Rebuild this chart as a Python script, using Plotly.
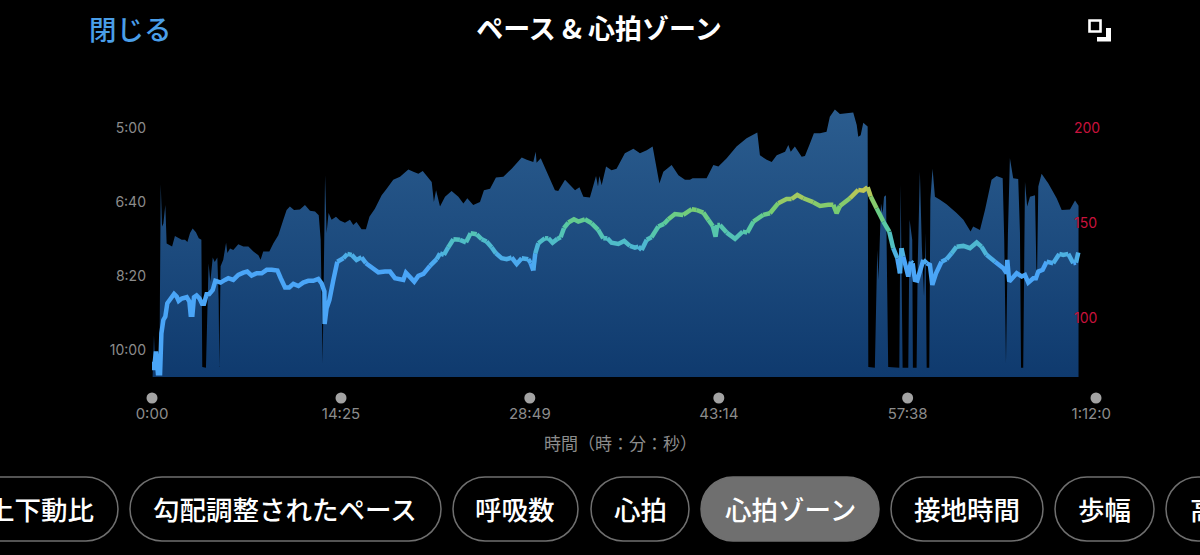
import plotly.graph_objects as go
from plotly.colors import sample_colorscale

# Elapsed time in seconds, pace in seconds per km
pace_time = [3, 9, 15, 34, 40, 46, 52, 61, 67, 82, 92, 105, 121, 136, 151, 162, 174, 186, 201, 214, 226,
             230, 247, 255, 259, 267, 278, 287, 299, 305, 308, 314, 326, 339, 345, 357, 372, 395, 418, 441,
             464, 487, 497, 509, 537, 555, 578, 601, 616, 631, 650, 677, 700, 723, 746, 763, 772, 781, 786,
             792, 799, 808, 822, 842, 860, 883, 906, 921, 936, 959, 979, 995, 1020, 1051, 1074, 1104, 1135,
             1173, 1196, 1219, 1239, 1257, 1280, 1290, 1300, 1318, 1341, 1371, 1402, 1425, 1443, 1470,
             1501, 1519, 1547, 1574, 1608, 1646, 1692, 1715, 1745, 1756, 1760, 1779, 1806, 1844, 1859, 1890,
             1913, 1936, 1956, 1974, 2004, 2032, 2041, 2047, 2058, 2078, 2103, 2126, 2164, 2203, 2233, 2264,
             2291, 2303, 2322, 2340, 2378, 2409, 2439, 2462, 2474, 2508, 2538, 2569, 2592, 2630, 2675, 2721,
             2770, 2782, 2813, 2836, 2859, 2897, 2912, 2923, 2942, 2973, 2988, 3011, 3029, 3057, 3087, 3102,
             3125, 3148, 3179, 3209, 3225, 3232, 3243, 3255, 3275, 3278, 3308, 3319, 3325, 3336, 3344, 3350,
             3359, 3369, 3420, 3426, 3435, 3461, 3467, 3479, 3482, 3499, 3504, 3514, 3523, 3533, 3540, 3545,
             3557, 3562, 3572, 3583, 3606, 3636, 3682, 3713, 3746, 3758, 3789, 3812, 3842, 3865, 3893, 3900,
             3908, 3917, 3926, 3941, 3964, 3972, 3977, 3987, 3995, 4005, 4018, 4041, 4047, 4050, 4056, 4071,
             4102, 4140, 4163, 4201, 4224, 4240]
pace_sec = [634, 580, 623, 623, 376, 433, 429, 404, 456, 458, 460, 446, 449, 451, 451, 454, 442, 436, 441, 449, 451,
            623, 624, 532, 483, 508, 475, 481, 475, 532, 623, 487, 478, 455, 469, 463, 465, 457, 460, 460,
            467, 472, 478, 467, 467, 456, 445, 424, 411, 406, 411, 410, 404, 412, 413, 418, 451, 618, 487,
            364, 442, 415, 424, 420, 425, 428, 424, 431, 427, 437, 437, 420, 409, 391, 382, 370, 366,
            356, 359, 362, 358, 365, 373, 400, 384, 406, 393, 385, 393, 402, 395, 404,
            400, 384, 382, 367, 366, 355, 340, 343, 346, 332, 347, 341, 359, 384, 385, 370,
            377, 384, 380, 393, 394, 365, 379, 365, 377, 352, 357, 355, 334, 328, 334, 330,
            325, 343, 375, 359, 350, 364, 370, 370, 368, 368, 368, 350, 352, 341, 325, 314,
            306, 337, 343, 346, 337, 332, 323, 332, 325, 339, 338, 321, 307, 307, 305, 285,
            275, 281, 280, 279, 296, 312, 310, 293, 298, 623, 624, 465, 505, 402, 415, 393,
            391, 623, 624, 377, 624, 624, 424, 451, 624, 624, 487, 359, 460, 528, 442, 624,
            624, 397, 355, 393, 397, 403, 415, 424, 440, 433, 438, 411, 370, 365, 368, 451,
            618, 442, 341, 368, 369, 442, 624, 624, 373, 406, 393, 391, 487, 505, 379, 362,
            375, 395, 411, 410, 398, 405]

# Elapsed time in seconds, heart rate in bpm
hr_time = [3, 9, 18, 27, 37, 38, 43, 52, 61, 70, 82, 101, 113, 122, 136, 159, 171, 177, 185, 192, 204, 217, 229, 238,
           250, 262, 278, 290, 302, 314, 334, 349, 372, 395, 418, 436, 456, 479, 502, 525, 548, 574, 589, 609, 628,
           647, 670, 692, 715, 738, 761, 776, 789, 790, 799, 812, 830, 848, 876, 894, 914, 936, 959, 979, 1005, 1036,
           1066, 1089, 1112, 1135, 1150, 1162, 1181, 1200, 1219, 1242, 1272, 1303, 1318, 1336, 1356, 1379, 1409, 1437,
           1458, 1486, 1509, 1531, 1554, 1574, 1600, 1623, 1646, 1669, 1692, 1722, 1733, 1745, 1754, 1768, 1798, 1814,
           1833, 1855, 1870, 1885, 1905, 1931, 1951, 1981, 2012, 2042, 2065, 2084, 2103, 2134, 2161, 2187, 2210, 2226,
           2241, 2264, 2286, 2317, 2343, 2363, 2393, 2431, 2470, 2492, 2523, 2546, 2566, 2579, 2587, 2599, 2630, 2668,
           2703, 2724, 2752, 2797, 2828, 2866, 2904, 2927, 2953, 2981, 3026, 3057, 3095, 3118, 3133, 3148, 3194, 3232,
           3255, 3275, 3289, 3316, 3347, 3374, 3392, 3411, 3423, 3430, 3438, 3450, 3461, 3473, 3481, 3491, 3502, 3514,
           3530, 3545, 3560, 3571, 3588, 3613, 3636, 3659, 3682, 3713, 3743, 3774, 3796, 3819, 3858, 3896, 3911, 3914,
           3923, 3957, 3980, 3995, 4010, 4033, 4045, 4056, 4076, 4094, 4124, 4152, 4170, 4193, 4216, 4228, 4239]
hr_bpm = [77, 72.6, 82.3, 70.9, 70.9, 88.4, 91.9, 98.9, 100.7, 107.7, 109.8, 112.6, 111.2, 108.9, 110.2, 110.9, 108.6,
          101.6, 101.6, 110.9, 111.8, 110.3, 107.4, 107.4,
          112.5, 112.6, 114.7, 119.5, 119.1, 118.6, 120, 120.9, 120, 122.6, 123.8, 124.4, 122.3, 123.5, 123.5, 125.3,
          125.3, 124.9, 120.9, 116, 116,
          117.9, 116.8, 118.6, 119.5, 119.5, 120.5, 118.2, 113.9, 96.8, 105.1, 109.5, 120, 129.6, 131.4, 133.7, 133.2,
          130.5, 131.9, 128.8, 126.5, 124,
          124.4, 124.4, 120.9, 120.3, 120, 123.8, 121.7, 119.1, 122.1, 123.2, 127.4, 130.9, 134, 133.2, 137.2, 141.4,
          141.1, 139.8,
          144.6, 144, 141.4, 140.2, 137.2, 134, 131.4, 130.9, 131.8, 128.4, 131.4, 130.9, 128.8, 124.9, 134, 139.3,
          141.9, 141.9,
          139.6, 141.6, 142.5, 147.2, 150.2, 151.9, 150.7, 151.9, 149.8, 146.3, 141.9, 141.9, 139.6, 138.9, 140.5,
          137.9, 137, 137.5,
          135.8, 141.1, 142.5, 148.1, 149.5, 151.9, 154.7, 154.2, 157.2, 156.8, 155.4, 151.6, 148.4, 142.8, 148.9,
          148.9, 144.9, 141.6,
          145.4, 144.9, 150.7, 154.2, 155.1, 160.4, 162.6, 162.6, 164.7, 163, 160.9, 158.9, 159.5, 159.5, 155.1, 158.9,
          163, 167.4,
          167, 168.8, 163.9, 157.7, 150.7, 145.4, 136.7, 131.4, 123.5, 136.7, 132.3, 125.3, 121.8, 129.6, 128.8, 120,
          119.7, 125.3,
          130.5, 128.8, 127.9, 117.4, 123.5, 129.6, 130.9, 134, 137.5, 137.9, 136.7, 139.7, 137.5, 133.2, 129.6, 126.1,
          123.5, 130.5,
          119.1, 123.5, 121.8, 122.6, 118.6, 120.9, 120.9, 124.4, 125.3, 129.6, 128.8, 133.7, 133.2, 133.7, 128.8,
          129.1, 134.4]

time_ticks = [0, 865, 1729, 2594, 3458, 4320]
time_labels = ["0:00", "14:25", "28:49", "43:14", "57:38", "1:12:00"]
pace_ticks = [300, 400, 500, 600]
pace_labels = ["5:00", "6:40", "8:20", "10:00"]
hr_ticks = [100, 150, 200]

chip_labels = ["上下動比", "勾配調整されたペース", "呼吸数", "心拍", "心拍ゾーン", "接地時間", "歩幅", "高度"]
selected_chip = "心拍ゾーン"

W, H = 1200, 555
# pill edges on screen, first and last run off the page
chip_edges = [(-120, 118), (130, 441), (453, 578), (591, 689), (701, 879), (891, 1043), (1055, 1154), (1166, 1320)]
chip_centers = [41, 285, 515, 640, 790, 967, 1104, 1216]


def px(x):
    return x / W


def py(y):
    return 1 - y / H


def pill_path(x0, x1, y0=477, y1=541):
    r = (y1 - y0) / 2
    k = r * 0.45
    pts = [
        ("M", (x0 + r, y0)), ("L", (x1 - r, y0)),
        ("C", (x1 - k, y0), (x1, y0 + k), (x1, y0 + r)),
        ("C", (x1, y1 - k), (x1 - k, y1), (x1 - r, y1)),
        ("L", (x0 + r, y1)),
        ("C", (x0 + k, y1), (x0, y1 - k), (x0, y0 + r)),
        ("C", (x0, y0 + k), (x0 + k, y0), (x0 + r, y0)),
    ]
    out = ""
    for p in pts:
        coords = " ".join(f"{px(a):.5f},{py(b):.5f}" for a, b in p[1:])
        out += f"{p[0]} {coords} "
    return out + "Z"


# heart rate zones drive the line colour
zone_scale = [[0, "rgb(74,165,247)"], [0.3, "rgb(74,165,247)"], [0.5, "rgb(79,188,200)"],
              [0.65, "rgb(90,203,158)"], [0.8, "rgb(120,204,114)"], [1, "rgb(207,198,78)"]]


def hr_colour(bpm):
    frac = min(max((bpm - 110) / 60, 0.0), 1.0)
    return sample_colorscale(zone_scale, [round(frac * 30) / 30])[0]


fig = go.Figure()

# pace area, filled down to the bottom of the axis
pace_bottom = 636.5
pace_top = 262.2
fig.add_trace(go.Scatter(x=[pace_time[0], pace_time[-1]], y=[pace_bottom, pace_bottom], mode="lines",
                         line=dict(width=0), showlegend=False, hoverinfo="skip"))
fig.add_trace(go.Scatter(x=pace_time, y=pace_sec, mode="lines", line=dict(width=0), fill="tonexty",
                         fillgradient=dict(type="vertical", start=pace_top, stop=pace_bottom,
                                           colorscale=[[0, "#2c5e90"], [1, "#0f3a6e"]]),
                         showlegend=False, hoverinfo="skip"))

# heart rate line, one trace per run of the same colour
start = 0
for i in range(1, len(hr_time)):
    colour = hr_colour((hr_bpm[i - 1] + hr_bpm[i]) / 2)
    nxt = hr_colour((hr_bpm[i] + hr_bpm[i + 1]) / 2) if i + 1 < len(hr_time) else None
    if nxt != colour:
        fig.add_trace(go.Scatter(x=hr_time[start:i + 1], y=hr_bpm[start:i + 1], yaxis="y2", mode="lines",
                                 line=dict(color=colour, width=4.5), showlegend=False, hoverinfo="skip"))
        start = i

# dots above the time labels
fig.add_trace(go.Scatter(x=time_ticks, y=[0] * len(time_ticks), yaxis="y3", mode="markers",
                         marker=dict(color="#a3a3a3", size=11), cliponaxis=False,
                         showlegend=False, hoverinfo="skip"))

grey = "#8c8c8c"
tick_font = dict(family="Inter, Roboto, sans-serif", size=14, color=grey)
cjk = "Noto Sans CJK JP"

shapes = []
annotations = []
for label, (x0, x1), xc in zip(chip_labels, chip_edges, chip_centers):
    on = label == selected_chip
    shapes.append(dict(type="path", path=pill_path(x0, x1), xref="paper", yref="paper",
                       fillcolor="#6f6f6f" if on else "rgba(0,0,0,0)",
                       line=dict(color="#6f6f6f", width=1.5)))
    annotations.append(dict(text=label, x=px(xc), y=py(508), xref="paper", yref="paper", showarrow=False,
                            xanchor="center", yanchor="middle",
                            font=dict(family=cjk, size=26.5, color="#ffffff", weight=500)))

annotations.append(dict(text="閉じる", x=px(130), y=py(28), xref="paper", yref="paper", showarrow=False,
                        xanchor="center", yanchor="middle", font=dict(family=cjk, size=27.5, color="#4a9ee8", weight=500)))
annotations.append(dict(text="時間（時：分：秒）", x=px(620), y=py(442), xref="paper", yref="paper", showarrow=False,
                        xanchor="center", yanchor="middle", font=dict(family=cjk, size=17, color=grey)))

# expand icon, top right
shapes.append(dict(type="rect", xref="paper", yref="paper", x0=px(1089.5), x1=px(1100.5), y0=py(31.5), y1=py(20.5),
                   line=dict(color="#ffffff", width=2.6)))
shapes.append(dict(type="path", xref="paper", yref="paper", fillcolor="#ffffff", line=dict(width=0),
                   path=f"M {px(1111):.5f},{py(28):.5f} L {px(1111):.5f},{py(41.5):.5f} L {px(1097):.5f},{py(41.5):.5f} "
                        f"L {px(1097):.5f},{py(37):.5f} L {px(1106):.5f},{py(37):.5f} L {px(1106):.5f},{py(28):.5f} Z"))
# last time label is cut off at the edge of the scroll view
shapes.append(dict(type="rect", xref="paper", yref="paper", x0=px(1111), x1=px(1130), y0=py(428), y1=py(405),
                   fillcolor="#000000", line=dict(width=0), layer="above"))

fig.update_layout(
    width=W,
    height=H,
    margin=dict(l=0, r=0, t=0, b=0, autoexpand=False),
    paper_bgcolor="#000000",
    plot_bgcolor="#000000",
    showlegend=False,
    title=dict(text="<b>ペース &amp; 心拍ゾーン</b>", x=px(599), y=py(30), xref="paper", yref="paper",
               xanchor="center", yanchor="middle", font=dict(family=cjk, size=27, color="#ffffff")),
    xaxis=dict(domain=[px(152), px(1096)], range=[0, 4320], anchor="y3", tickvals=time_ticks, ticktext=time_labels,
               tickfont=dict(tick_font, size=15), showgrid=False, zeroline=False, showline=False,
               ticks="", ticklen=0),
    yaxis=dict(domain=[py(377), py(100)], range=[pace_bottom, pace_top], anchor="free", position=px(146),
               tickvals=pace_ticks, ticktext=pace_labels, tickfont=tick_font, showgrid=False, zeroline=False,
               showline=False),
    yaxis2=dict(overlaying="y", side="right", range=[68.9, 214.7], anchor="free", position=px(1073),
                tickvals=hr_ticks, tickfont=dict(tick_font, color="#c8123c"), showgrid=False, zeroline=False,
                showline=False),
    yaxis3=dict(domain=[py(403), py(393)], range=[-1, 1], visible=False),
    shapes=shapes,
    annotations=annotations,
)

fig.write_html("out.html", config=dict(displayModeBar=False),
               post_script="document.body.style.margin='0';document.body.style.background='#000';"
                           "document.body.style.overflow='hidden';")
